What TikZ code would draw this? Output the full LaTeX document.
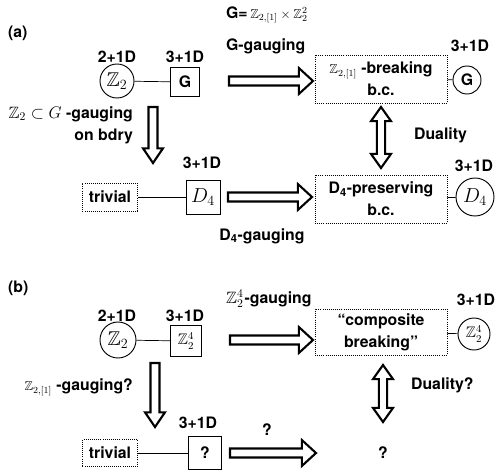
\documentclass[tikz,border=0pt]{standalone}
\usepackage{amssymb}
\usepackage{fontspec}
\setmainfont{TeX Gyre Heros}
\usetikzlibrary{calc}

\tikzset{
  lbl/.style={font=\bfseries\fontsize{13.5}{19}\selectfont},
  dotbox/.style={draw,densely dotted,line width=0.8pt,align=center,inner sep=0pt},
  circ/.style={draw,circle,line width=0.8pt,inner sep=0pt},
  sq/.style={draw,line width=0.8pt,inner sep=0pt},
  fat/.style={draw,line width=1.8pt,fill=white,line join=miter},
  link/.style={line width=0.6pt},
}
\newcommand{\smallmath}{\fontsize{11}{13}\selectfont}
\newcommand{\bigmath}{\fontsize{17}{20}\selectfont}
% hollow arrows between two named points
\newcommand{\rightfat}[2]{\draw[fat] let \p1=(#1), \p2=(#2) in
  (\x1,\y1+3.8pt) -- (\x2-12pt,\y1+3.8pt) -- (\x2-12pt,\y1+11pt) -- (\x2,\y1)
  -- (\x2-12pt,\y1-11pt) -- (\x2-12pt,\y1-3.8pt) -- (\x1,\y1-3.8pt) -- cycle;}
\newcommand{\downfat}[2]{\draw[fat] let \p1=(#1), \p2=(#2) in
  (\x1-3.8pt,\y1) -- (\x1-3.8pt,\y2+12.5pt) -- (\x1-8.5pt,\y2+12.5pt) -- (\x1,\y2)
  -- (\x1+8.5pt,\y2+12.5pt) -- (\x1+3.8pt,\y2+12.5pt) -- (\x1+3.8pt,\y1) -- cycle;}
\newcommand{\dualfat}[2]{\draw[fat] let \p1=(#1), \p2=(#2) in
  (\x1,\y1) -- (\x1+8.5pt,\y1-12pt) -- (\x1+3.5pt,\y1-12pt) -- (\x1+3.5pt,\y2+12pt)
  -- (\x1+8.5pt,\y2+12pt) -- (\x1,\y2) -- (\x1-8.5pt,\y2+12pt) -- (\x1-3.5pt,\y2+12pt)
  -- (\x1-3.5pt,\y1-12pt) -- (\x1-8.5pt,\y1-12pt) -- cycle;}

\begin{document}
\begin{tikzpicture}[x=0.03cm,y=-0.03cm]
\useasboundingbox (0,0) rectangle (498,473);
% (a)
\node[lbl,anchor=west] (la) at (4,33) {(a)};
\node[lbl,anchor=west] (gdef) at (222,15) {G=\,{\smallmath$\mathbb{Z}_{2,[1]}\times\mathbb{Z}_2^2$}};
\node[lbl,anchor=west] (gg) at (222,46) {G-gauging};
\node[lbl] (dza) at (117,57) {2+1D};
\node[lbl] (dga) at (185,57) {3+1D};
\node[circ,minimum size=1.02cm,font=\bigmath] (za) at (117,81) {$\mathbb{Z}_2$};
\node[sq,lbl,minimum size=0.87cm] (ga) at (185,82) {G};
\draw[link] (za) -- (ga);
\node[dotbox,lbl,minimum width=3.96cm,minimum height=1.44cm] (brk) at (381,79) {{\smallmath$\mathbb{Z}_{2,[1]}$} -breaking\\b.c.};
\node[circ,lbl,minimum size=0.84cm] (gc) at (467,80) {G};
\node[lbl] (dgc) at (470,46) {3+1D};
\draw[link] (brk) -- (gc);
\coordinate (a1s) at (229,81);
\coordinate (a1e) at (313,81);
\rightfat{a1s}{a1e}
\node[lbl,anchor=east,align=right] (bd) at (137,125) {{\fontsize{14}{19}\selectfont$\mathbb{Z}_2\subset G$} -gauging\\on bdry};
\coordinate (d1s) at (153,107);
\coordinate (d1e) at (153,163);
\downfat{d1s}{d1e}
\coordinate (u1s) at (381,107);
\coordinate (u1e) at (381,168);
\dualfat{u1s}{u1e}
\node[lbl,anchor=west] (dual) at (410,135) {Duality};
\node[lbl] (dd4) at (202,163) {3+1D};
\node[dotbox,lbl,minimum width=1.65cm,minimum height=0.84cm] (triv) at (110,197) {trivial};
\node[sq,minimum size=1.02cm,font=\bigmath] (d4) at (203,197) {$D_4$};
\draw[link] (triv) -- (d4);
\coordinate (a2s) at (228,197);
\coordinate (a2e) at (312,197);
\rightfat{a2s}{a2e}
\node[lbl] (dg) at (262,236) {D\textsubscript{4}-gauging};
\node[dotbox,lbl,minimum width=3.96cm,minimum height=1.44cm] (pres) at (381,199) {D\textsubscript{4}-preserving\\b.c.};
\node[circ,minimum size=1.14cm,font=\bigmath] (d4c) at (475,197) {$D_4$};
\node[lbl] (dd4c) at (474,166) {3+1D};
\draw[link] (pres) -- (d4c);
% (b)
\node[lbl,anchor=west] (lb) at (4,288) {(b)};
\node[lbl,anchor=west] (zg) at (222,299) {{\fontsize{14}{19}\selectfont$\mathbb{Z}_2^4$}\kern1pt-gauging};
\node[lbl] (dzb) at (117,316) {2+1D};
\node[lbl] (dzz) at (185,316) {3+1D};
\node[circ,minimum size=1.08cm,font=\bigmath] (zb) at (118,340) {$\mathbb{Z}_2$};
\node[sq,minimum size=0.93cm,font=\fontsize{13}{15}\selectfont] (z4) at (186,341) {$\mathbb{Z}_2^4$};
\draw[link] (zb) -- (z4);
\coordinate (b1s) at (230,340);
\coordinate (b1e) at (313,340);
\rightfat{b1s}{b1e}
\node[dotbox,lbl,minimum width=3.96cm,minimum height=1.38cm] (comp) at (381,332) {``composite\\breaking''};
\node[circ,minimum size=0.96cm,font=\fontsize{13}{15}\selectfont] (z4c) at (474,334) {$\mathbb{Z}_2^4$};
\node[lbl] (dz4c) at (476,300) {3+1D};
\draw[link] (comp) -- (z4c);
\node[lbl,anchor=east] (q1) at (137,387) {{\smallmath$\mathbb{Z}_{2,[1]}$} -gauging?};
\coordinate (d2s) at (155,363);
\coordinate (d2e) at (155,427);
\downfat{d2s}{d2e}
\coordinate (u2s) at (383,365);
\coordinate (u2e) at (383,422);
\dualfat{u2s}{u2e}
\node[lbl,anchor=west] (dual2) at (407,385) {Duality?};
\node[lbl] (dq) at (198,423) {3+1D};
\node[dotbox,lbl,minimum width=1.65cm,minimum height=0.81cm] (triv2) at (110,453) {trivial};
\node[sq,lbl,minimum size=0.99cm] (qb) at (205,453) {?};
\draw[link] (triv2) -- (qb);
\coordinate (b2s) at (230,453);
\coordinate (b2e) at (316,453);
\rightfat{b2s}{b2e}
\node[lbl] (q2) at (267,430) {?};
\node[lbl] (q3) at (383,453) {?};
\end{tikzpicture}
\end{document}
